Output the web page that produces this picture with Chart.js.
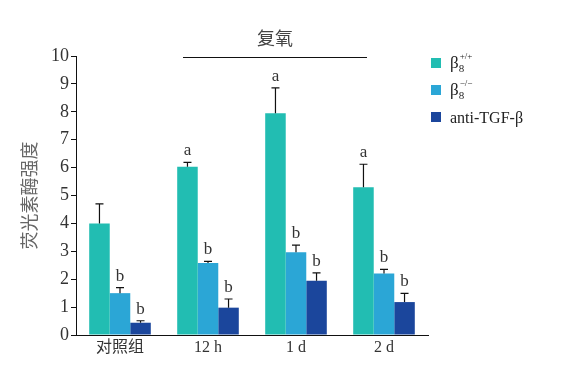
<!DOCTYPE html>
<html>
<head>
<meta charset="utf-8">
<script src="https://cdn.jsdelivr.net/npm/chart.js@4/dist/chart.umd.min.js"></script>
<style>
  html, body { margin: 0; padding: 0; background: #fff; }
  #wrap { width: 575px; height: 369px; }
</style>
</head>
<body>
<div id="wrap"><canvas id="myChart" width="575" height="369"></canvas></div>
<script>
const groups = ['对照组', '12 h', '1 d', '2 d'];

const wtMean = [4.0, 6.03, 7.95, 5.3];
const wtErr = [0.7, 0.16, 0.91, 0.82];
const wtMark = ['', 'a', 'a', 'a'];

const koMean = [1.5, 2.58, 2.97, 2.2];
const koErr = [0.2, 0.06, 0.25, 0.15];
const koMark = ['b', 'b', 'b', 'b'];

const antiMean = [0.44, 0.98, 1.94, 1.18];
const antiErr = [0.07, 0.31, 0.29, 0.31];
const antiMark = ['b', 'b', 'b', 'b'];

const yTicks = [0, 1, 2, 3, 4, 5, 6, 7, 8, 9, 10];

const colors = ['#22bdb2', '#2ba6d6', '#1b469c'];
const serif = '"Liberation Serif", "DejaVu Serif", serif';
const cjk = '"Noto Sans CJK SC", sans-serif';

const errs = [wtErr, koErr, antiErr];
const marks = [wtMark, koMark, antiMark];

// error bars, letters, header line and legend
const extras = {
    id: 'extras',
    afterDatasetsDraw(chart) {
        const c = chart.ctx;
        const y = chart.scales.y;
        const x = chart.scales.x;
        c.save();
        chart.data.datasets.forEach(function(ds, di) {
            const meta = chart.getDatasetMeta(di);
            meta.data.forEach(function(bar, i) {
                const top = y.getPixelForValue(ds.data[i] + errs[di][i]);
                c.strokeStyle = '#111';
                c.lineWidth = 1.2;
                c.beginPath();
                c.moveTo(bar.x, bar.y);
                c.lineTo(bar.x, top);
                c.moveTo(bar.x - 4, top);
                c.lineTo(bar.x + 4, top);
                c.stroke();
                if (marks[di][i]) {
                    c.fillStyle = '#333';
                    c.font = '17px ' + serif;
                    c.textAlign = 'center';
                    c.textBaseline = 'bottom';
                    c.fillText(marks[di][i], bar.x, top - 3);
                }
            });
        });

        // header "复氧" over reoxygenation groups
        const x1 = x.getPixelForValue(1) - 25;
        const x2 = x.getPixelForValue(3) - 17;
        c.strokeStyle = '#111';
        c.lineWidth = 1;
        c.beginPath();
        c.moveTo(x1, 57.5);
        c.lineTo(x2, 57.5);
        c.stroke();
        c.fillStyle = '#444';
        c.font = '18px ' + cjk;
        c.textAlign = 'center';
        c.textBaseline = 'middle';
        c.fillText('复氧', (x1 + x2) / 2, 38);

        // legend
        const lx = 431, ly = [58, 85, 112];
        c.textAlign = 'left';
        c.textBaseline = 'alphabetic';
        for (let k = 0; k < 3; k++) {
            c.fillStyle = colors[k];
            c.fillRect(lx, ly[k], 10, 10);
            c.fillStyle = '#222';
            const base = ly[k] + 10;
            if (k < 2) {
                c.font = '17px ' + serif;
                c.fillText('β', lx + 19, base);
                const bw = c.measureText('β').width;
                c.font = '11px ' + serif;
                c.fillText('8', lx + 19 + bw, base + 4);
                c.font = '9px ' + serif;
                c.fillText(k === 0 ? '+/+' : '−/−', lx + 19 + bw + 1, base - 9);
            } else {
                c.font = '16px ' + serif;
                c.fillText('anti-TGF-β', lx + 19, base + 1);
            }
        }
        c.restore();
    }
};

const config = {
    type: 'bar',
    data: {
        labels: groups,
        datasets: [{
            label: 'β8+/+',
            data: wtMean,
            backgroundColor: colors[0]
        }, {
            label: 'β8-/-',
            data: koMean,
            backgroundColor: colors[1]
        }, {
            label: 'anti-TGF-β',
            data: antiMean,
            backgroundColor: colors[2]
        }]
    },
    options: {
        responsive: false,
        animation: false,
        layout: { padding: { left: 0, right: 147, top: 56, bottom: 0 } },
        datasets: {
            bar: { categoryPercentage: 0.7, barPercentage: 1.0 }
        },
        scales: {
            x: {
                grid: { display: false, drawTicks: false },
                border: { color: '#111', width: 1 },
                ticks: {
                    color: '#333',
                    font: { family: '"Liberation Serif", "Noto Sans CJK SC", serif', size: 16 },
                    padding: 3
                },
                afterFit(scale) { scale.height = 34; }
            },
            y: {
                min: 0,
                max: 10,
                afterBuildTicks(scale) { scale.ticks = yTicks.map(v => ({ value: v })); },
                grid: { drawOnChartArea: false, tickLength: 5, color: '#111' },
                border: { color: '#111', width: 1 },
                ticks: {
                    color: '#333',
                    font: { family: serif, size: 18 },
                    padding: 2
                },
                title: {
                    display: true,
                    text: '荧光素酶强度',
                    color: '#666',
                    font: { family: cjk, size: 18 },
                    padding: { top: 18, bottom: 0 }
                },
                afterFit(scale) { scale.width = 76; }
            }
        },
        plugins: {
            legend: { display: false },
            tooltip: { enabled: false }
        }
    },
    plugins: [extras]
};

const myChart = new Chart(document.getElementById('myChart').getContext('2d'), config);
</script>
</body>
</html>
